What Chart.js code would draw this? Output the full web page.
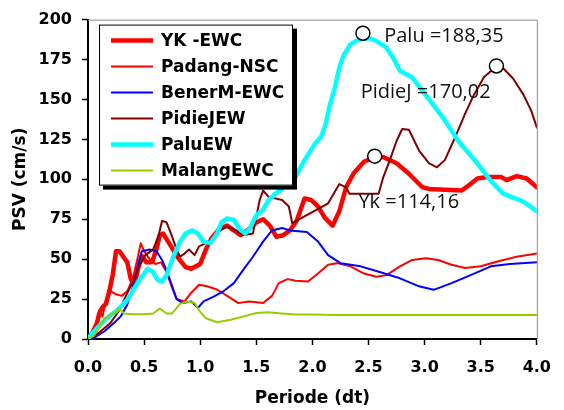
<!DOCTYPE html>
<html><head><meta charset="utf-8">
<script src="https://cdn.jsdelivr.net/npm/chart.js@4.4.1/dist/chart.umd.min.js"></script>
<style>html,body{margin:0;padding:0;background:#fff}</style>
</head><body>
<canvas id="c" width="564" height="410"></canvas>
<script>
// ---------- data (period in dt, PSV in cm/s) ----------
const seriesNames = ["YK -EWC", "Padang-NSC", "BenerM-EWC", "PidieJEW", "PaluEW", "MalangEWC"];

const ykPeriod = [0,0.04,0.08,0.1,0.13,0.16,0.19,0.22,0.25,0.28,0.31,0.35,0.38,0.41,0.45,0.48,0.52,0.57,0.61,0.64,0.67,0.74,0.8,0.87,0.92,1.0,1.05,1.1,1.17,1.24,1.3,1.36,1.42,1.5,1.56,1.62,1.68,1.74,1.8,1.86,1.93,1.99,2.05,2.11,2.18,2.24,2.3,2.37,2.46,2.56,2.63,2.75,2.86,2.98,3.04,3.33,3.39,3.47,3.56,3.68,3.73,3.82,3.91,4.0];
const ykPSV    = [0,4,10,16,20,22,30,40,55,55,52,48,38,33,45,52,48,48,56,65,66,58,51,45,44,47,56,63,69,71,68,65,68,73,75,71,64,65,68,74,88,87,83,76,71,80,95,104,111,114,114,110,103.5,95,94,93,96,100.5,101.5,101.5,99.5,102,100.5,95];

const padangPeriod = [0,0.05,0.08,0.1,0.13,0.16,0.2,0.25,0.3,0.35,0.4,0.44,0.47,0.5,0.55,0.6,0.65,0.7,0.75,0.79,0.86,0.92,0.99,1.06,1.15,1.24,1.34,1.44,1.56,1.64,1.7,1.78,1.85,1.96,2.05,2.14,2.22,2.34,2.46,2.57,2.66,2.78,2.89,3.01,3.12,3.24,3.36,3.5,3.65,3.82,4.0];
const padangPSV    = [0,5,12,18,14,25,30,28,27,30,38,50,60,55,50,47,48,42,32,25,23.5,29,34,33,31,27,22.5,23.5,22.5,27,35,37.5,36.5,36,41,46.5,47.5,45.5,41,39,40,45.5,49.5,50.5,49.5,46.5,44.5,45.5,48.5,51.5,53.5];

const benerPeriod = [0,0.06,0.15,0.23,0.29,0.35,0.41,0.45,0.48,0.55,0.61,0.66,0.7,0.74,0.79,0.845,0.92,0.98,1.03,1.12,1.21,1.3,1.38,1.47,1.56,1.64,1.73,1.8,1.95,2.05,2.14,2.25,2.43,2.6,2.78,2.95,3.08,3.24,3.41,3.59,3.76,4.0];
const benerPSV    = [0,1,5,10,14,21.5,35,47.5,55,56,55,49.5,43,35,25,22.5,23.5,19.5,23.5,26.5,30,35,43,51.5,61,68,69.5,68,67,61,52.5,47.5,45.5,42,38,33,30.8,35,40,45.5,47,48];

const pidiePeriod = [0,0.1,0.2,0.28,0.35,0.41,0.45,0.51,0.58,0.63,0.66,0.7,0.74,0.79,0.82,0.86,0.9,0.95,0.99,1.05,1.12,1.18,1.24,1.32,1.38,1.47,1.5,1.53,1.56,1.61,1.73,1.79,1.82,2.14,2.24,2.3,2.33,2.59,2.63,2.69,2.75,2.8,2.86,2.95,3.04,3.11,3.18,3.27,3.36,3.44,3.53,3.62,3.66,3.7,3.79,3.88,3.95,4.0];
const pidiePSV    = [0,4,10,18,28.8,37,45,52.5,56,65,74,73,66,56,51.5,53.5,56,52.5,58,60,63,68,70.5,68,65,66,76.5,87,93,89,87,83,72.5,85,97,95,91,91,101,112,124,131.5,131,118,110,107.5,112,126,141,153,164,169.5,170.02,169.5,163,153,143,132.5];

const paluPeriod = [0,0.03,0.15,0.26,0.35,0.44,0.53,0.58,0.62,0.66,0.7,0.76,0.82,0.87,0.93,0.98,1.03,1.09,1.15,1.19,1.24,1.3,1.35,1.4,1.44,1.5,1.56,1.61,1.67,1.73,1.79,1.85,1.93,2.02,2.08,2.12,2.15,2.2,2.24,2.28,2.34,2.4,2.45,2.51,2.57,2.66,2.72,2.78,2.89,3.04,3.18,3.3,3.47,3.59,3.7,3.88,4.0];
const paluPSV    = [0,3,12,18,24.5,35,44,42,37,36,40,51.5,61,66,68,66,61,60,66,73,75.5,74.5,69,66,69,77.5,81,87,91,94,98,101.5,112,122,127,135,145,157.5,170,178,184.5,187,188,188.35,186.6,182.4,176,168,163.7,150,137,124,110,99,91,86,80];

const malangPeriod = [0,0.05,0.1,0.15,0.2,0.25,0.28,0.32,0.4,0.5,0.58,0.64,0.7,0.75,0.82,0.88,0.95,1.0,1.05,1.15,1.27,1.38,1.5,1.6,1.73,1.85,2.0,2.2,2.5,3.0,3.5,4.0];
const malangPSV    = [0,2,7,13,15,17,19,16,15.5,15.5,16,19,16,16,22,23.5,22.5,17,13,10.5,12,14,16.3,16.8,16,15.3,15.3,15,15,15,15,15];

// peak markers and labels
const peakPeriod = [2.45, 3.64, 2.555];
const peakPSV    = [191.5, 171, 114.5];
const peakLabels = ["Palu =188,35", "PidieJ =170,02", "Yk =114,16"];
const labelPeriod = [2.64, 2.43, 2.41];
const labelPSV    = [189.7, 154.2, 85.7];

const xTicks = [0,0.5,1,1.5,2,2.5,3,3.5,4];
const yTicks = [0,25,50,75,100,125,150,175,200];

// ---------- build ----------
const periods = [ykPeriod, padangPeriod, benerPeriod, pidiePeriod, paluPeriod, malangPeriod];
const values  = [ykPSV, padangPSV, benerPSV, pidiePSV, paluPSV, malangPSV];
const colors  = ["#FF0000", "#FF0000", "#0000FF", "#800000", "#00FFFF", "#99CC00"];
const widths  = [4.5, 2, 2, 2, 4.5, 2];

const pts = (xs, ys) => xs.map((x, i) => ({x: x, y: ys[i]}));

const datasets = seriesNames.map((name, i) => ({
  label: name,
  data: pts(periods[i], values[i]),
  showLine: true,
  borderColor: colors[i],
  backgroundColor: colors[i],
  borderWidth: widths[i],
  pointRadius: 0,
  tension: 0,
  borderJoinStyle: 'round',
  borderCapStyle: 'round',
  order: 10 - i
}));
datasets.push({
  label: "_peaks",
  data: pts(peakPeriod, peakPSV),
  showLine: false,
  pointRadius: 7,
  pointBorderWidth: 1.5,
  pointBackgroundColor: "#fff",
  pointBorderColor: "#000",
  order: 0
});

const FONT = '"DejaVu Sans", sans-serif';

const framePlugin = {
  id: 'frame',
  beforeDatasetsDraw(chart) {
    const {ctx, chartArea: a} = chart;
    ctx.save();
    ctx.strokeStyle = '#8c8c8c';
    ctx.lineWidth = 1;
    ctx.beginPath();
    ctx.moveTo(a.left, a.top + 0.5);
    ctx.lineTo(a.right + 0.5, a.top + 0.5);
    ctx.lineTo(a.right + 0.5, a.bottom);
    ctx.stroke();
    ctx.restore();
  }
};

const labelPlugin = {
  id: 'peakLabels',
  afterDatasetsDraw(chart) {
    const {ctx, scales: {x, y}} = chart;
    ctx.save();
    ctx.font = '20px "Open Sans", sans-serif';
    ctx.fillStyle = '#111';
    ctx.textAlign = 'left';
    ctx.textBaseline = 'middle';
    peakLabels.forEach((t, i) => {
      ctx.fillText(t, x.getPixelForValue(labelPeriod[i]), y.getPixelForValue(labelPSV[i]));
    });
    ctx.restore();
  }
};

const legendPlugin = {
  id: 'boxLegend',
  afterDraw(chart) {
    const {ctx, chartArea: a} = chart;
    const L = a.left + 11, T = a.top + 5, W = 194, H = 161;
    ctx.save();
    ctx.fillStyle = '#000';
    ctx.fillRect(L + 4, T + 4, W, H);
    ctx.fillStyle = '#fff';
    ctx.fillRect(L, T, W, H);
    ctx.strokeStyle = '#000';
    ctx.lineWidth = 1;
    ctx.strokeRect(L + 0.5, T + 0.5, W - 1, H - 1);
    ctx.font = 'bold 17px ' + FONT;
    ctx.textBaseline = 'middle';
    ctx.textAlign = 'left';
    seriesNames.forEach((name, i) => {
      const yy = T + 16 + i * 26;
      ctx.strokeStyle = colors[i];
      ctx.lineWidth = widths[i];
      ctx.beginPath();
      ctx.moveTo(L + 12, yy);
      ctx.lineTo(L + 54, yy);
      ctx.stroke();
      ctx.fillStyle = '#000';
      ctx.fillText(name, L + 62, yy + 1);
    });
    ctx.restore();
  }
};

new Chart(document.getElementById('c'), {
  type: 'scatter',
  data: { datasets },
  options: {
    responsive: false,
    animation: false,
    devicePixelRatio: 1,
    layout: { padding: { top: 19, right: 16, left: 0, bottom: 0 } },
    plugins: { legend: { display: false }, tooltip: { enabled: false } },
    scales: {
      x: {
        type: 'linear', min: 0, max: 4,
        afterFit(s) { s.height = 71; },
        afterBuildTicks(s) { s.ticks = xTicks.map(v => ({value: v})); },
        ticks: { color: '#000', font: { family: FONT, size: 16, weight: 'bold' }, padding: 13,
                 callback: v => Number(v).toFixed(1), maxRotation: 0 },
        grid: { drawOnChartArea: false, drawTicks: true, tickLength: 6, color: '#000', tickWidth: 1.5 },
        border: { color: '#000', width: 2 },
        title: { display: true, text: 'Periode (dt)', color: '#000',
                 font: { family: FONT, size: 17, weight: 'bold' }, padding: { top: 0, bottom: 1 } }
      },
      y: {
        type: 'linear', min: 0, max: 200,
        afterFit(s) { s.width = 88; },
        afterBuildTicks(s) { s.ticks = yTicks.map(v => ({value: v})); },
        ticks: { color: '#000', font: { family: FONT, size: 16, weight: 'bold' }, padding: 10 },
        grid: { drawOnChartArea: false, drawTicks: true, tickLength: 6, color: '#000', tickWidth: 1.5 },
        border: { color: '#000', width: 2 },
        title: { display: true, text: 'PSV (cm/s)', color: '#000',
                 font: { family: FONT, size: 17, weight: 'bold' }, padding: { top: 10, bottom: 0 } }
      }
    }
  },
  plugins: [framePlugin, labelPlugin, legendPlugin]
});
</script>
</body></html>
